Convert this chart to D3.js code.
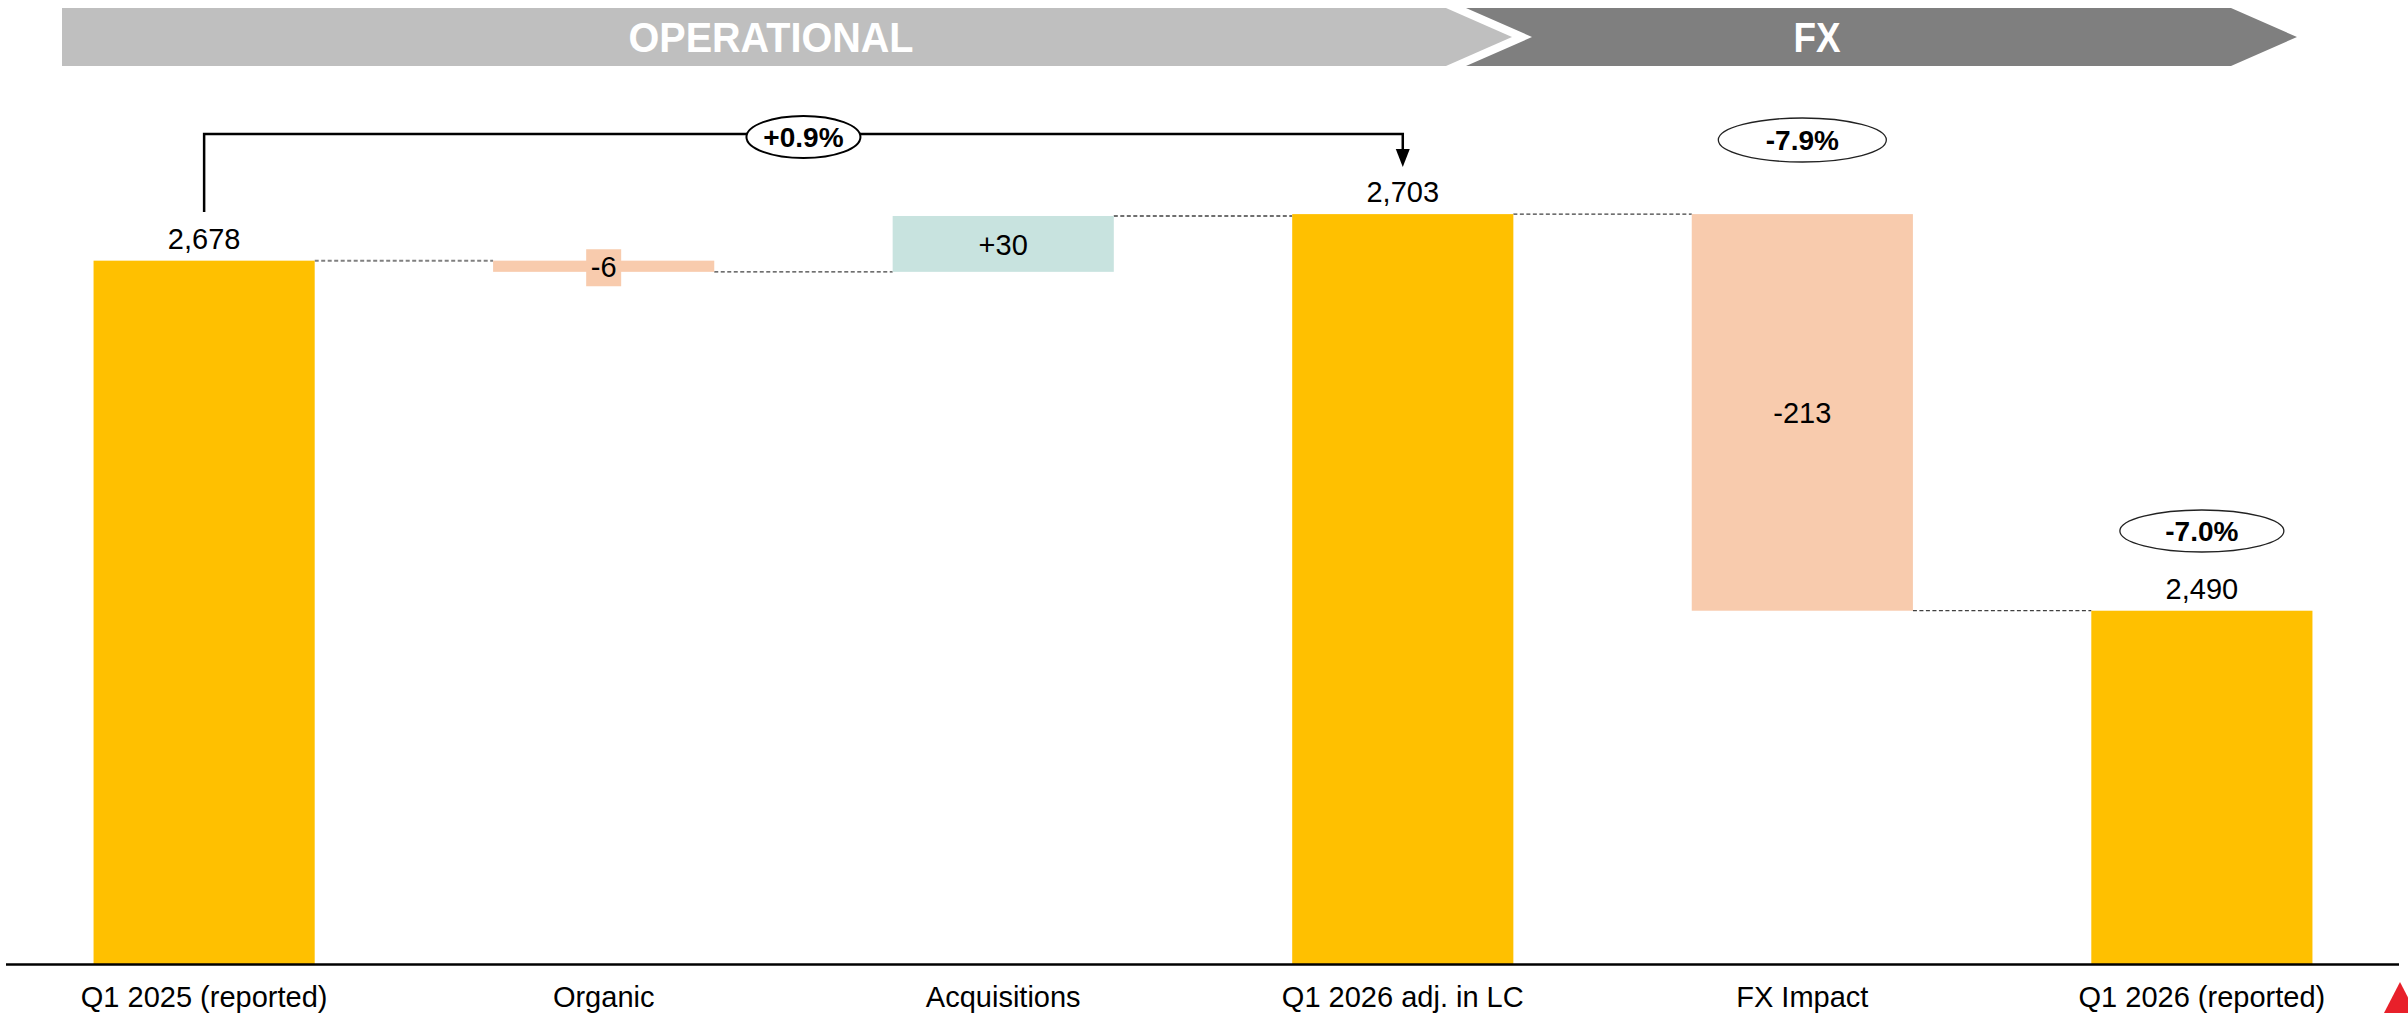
<!DOCTYPE html>
<html><head><meta charset="utf-8">
<script src="https://cdn.jsdelivr.net/npm/d3@7"></script>
<style>
html,body{margin:0;padding:0;background:#fff;overflow:hidden}
text{font-family:"Liberation Sans",Arial,sans-serif}
</style></head>
<body>
<svg id="c" width="2408" height="1013"></svg>
<script>
// ---- data ----
const categories = ["Q1 2025 (reported)", "Organic", "Acquisitions", "Q1 2026 adj. in LC", "FX Impact", "Q1 2026 (reported)"];
const values = [2678, -6, 30, 2703, -213, 2490];
const kinds = ["total", "delta", "delta", "total", "delta", "total"];
const valueLabels = ["2,678", "-6", "+30", "2,703", "-213", "2,490"];
const bannerLabels = ["OPERATIONAL", "FX"];
const bracketLabel = "+0.9%";
const fxChangeLabel = "-7.9%";
const totalChangeLabel = "-7.0%";

// ---- styles ----
const YELLOW = "#FFC000", PEACH = "#F8CBAD", MINT = "#C8E3DF";

const svg = d3.select("#c");
const x = d3.scaleBand().domain(categories).range([4.35, 2401.65]).paddingInner(0.4465).paddingOuter(0.22325);
const y = d3.scaleLinear().domain([2300, 2800]).range([964.5, 33.5]);

// compute waterfall segments
let running = 0;
const segs = categories.map((c, i) => {
  let y0, y1;
  if (kinds[i] === "total") { y0 = 2300; y1 = values[i]; running = values[i]; }
  else { y0 = running; y1 = running + values[i]; running = y1; }
  const color = kinds[i] === "total" ? YELLOW : (values[i] < 0 ? PEACH : MINT);
  return {c, i, y0, y1, level: running, color, label: valueLabels[i], kind: kinds[i]};
});

// banners
const bTop = 8, bBot = 66, bMid = (bTop + bBot) / 2;
svg.append("path").attr("d", `M62,${bTop} L1446,${bTop} L1512,${bMid} L1446,${bBot} L62,${bBot} Z`).attr("fill", "#BFBFBF");
svg.append("path").attr("d", `M1466,${bTop} L2231,${bTop} L2297,${bMid} L2231,${bBot} L1466,${bBot} L1532,${bMid} Z`).attr("fill", "#7F7F7F");
svg.append("text").attr("x", 771).attr("y", bMid + 15).attr("text-anchor", "middle").attr("fill", "#fff")
  .attr("font-weight", "bold").attr("font-size", 42).attr("textLength", 285).attr("lengthAdjust", "spacingAndGlyphs").text(bannerLabels[0]);
svg.append("text").attr("x", 1817).attr("y", bMid + 15).attr("text-anchor", "middle").attr("fill", "#fff")
  .attr("font-weight", "bold").attr("font-size", 42).attr("textLength", 47).attr("lengthAdjust", "spacingAndGlyphs").text(bannerLabels[1]);

// connectors
segs.slice(0, -1).forEach((s, i) => {
  const ly = y(s.level);
  svg.append("line").attr("x1", x(s.c) + x.bandwidth()).attr("x2", x(categories[i + 1]))
    .attr("y1", ly).attr("y2", ly).attr("stroke", i === 0 ? "#808080" : "#404040")
    .attr("stroke-width", i === 0 ? 2 : 1.3).attr("stroke-dasharray", "4,2.5");
});

// bars
svg.selectAll("rect.bar").data(segs).join("rect").attr("class", "bar")
  .attr("x", d => x(d.c)).attr("width", x.bandwidth())
  .attr("y", d => y(Math.max(d.y0, d.y1))).attr("height", d => Math.abs(y(d.y0) - y(d.y1)))
  .attr("fill", d => d.color);

// labels
segs.forEach(s => {
  const cx = x(s.c) + x.bandwidth() / 2;
  if (s.kind === "total") {
    svg.append("text").attr("x", cx).attr("y", y(s.y1) - 12).attr("text-anchor", "middle")
      .attr("font-size", 29).attr("fill", "#000").text(s.label);
  } else {
    const cy = (y(s.y0) + y(s.y1)) / 2;
    if (Math.abs(y(s.y0) - y(s.y1)) < 40) {
      svg.append("rect").attr("x", cx - 17.5).attr("y", cy - 17).attr("width", 35).attr("height", 37).attr("fill", s.color);
    }
    svg.append("text").attr("x", cx).attr("y", cy + 11).attr("text-anchor", "middle")
      .attr("font-size", 29).attr("fill", "#000").text(s.label);
  }
});

// axis line + category labels
svg.append("line").attr("x1", 6).attr("x2", 2399).attr("y1", 964.5).attr("y2", 964.5).attr("stroke", "#000").attr("stroke-width", 2.5);
const axis = d3.axisBottom(x).tickSize(0).tickPadding(0);
const ag = svg.append("g").attr("transform", "translate(0,964.5)").call(axis);
ag.select(".domain").remove();
ag.selectAll("text").attr("font-size", 29).attr("fill", "#000").attr("dy", 0).attr("y", 42)
  .style("font-family", '"Liberation Sans",Arial,sans-serif');

// bracket +0.9%
const c0 = x(categories[0]) + x.bandwidth() / 2, c3 = x(categories[3]) + x.bandwidth() / 2;
const by = 134;
svg.append("path").attr("d", `M${c0},212 L${c0},${by} L${c3},${by} L${c3},150`).attr("fill", "none").attr("stroke", "#000").attr("stroke-width", 2.5);
svg.append("path").attr("d", `M${c3 - 7},149 L${c3 + 7},149 L${c3},167 Z`).attr("fill", "#000");
const mid = (c0 + c3) / 2;
svg.append("ellipse").attr("cx", mid).attr("cy", 137).attr("rx", 57).attr("ry", 21).attr("fill", "#fff").attr("stroke", "#000").attr("stroke-width", 2);
svg.append("text").attr("x", mid).attr("y", 147).attr("text-anchor", "middle").attr("font-weight", "bold").attr("font-size", 28).text(bracketLabel);

// -7.9% and -7.0%
const c4 = x(categories[4]) + x.bandwidth() / 2, c5 = x(categories[5]) + x.bandwidth() / 2;
svg.append("ellipse").attr("cx", c4).attr("cy", 140).attr("rx", 84).attr("ry", 22).attr("fill", "#fff").attr("stroke", "#222").attr("stroke-width", 1.3);
svg.append("text").attr("x", c4).attr("y", 150).attr("text-anchor", "middle").attr("font-weight", "bold").attr("font-size", 28).text(fxChangeLabel);
svg.append("ellipse").attr("cx", c5).attr("cy", 531).attr("rx", 82).attr("ry", 21).attr("fill", "#fff").attr("stroke", "#222").attr("stroke-width", 1.3);
svg.append("text").attr("x", c5).attr("y", 541).attr("text-anchor", "middle").attr("font-weight", "bold").attr("font-size", 28).text(totalChangeLabel);

// red corner marker
svg.append("path").attr("d", "M2384,1013 L2400,982 L2416,1013 Z").attr("fill", "#E8202A");
</script>
</body></html>
